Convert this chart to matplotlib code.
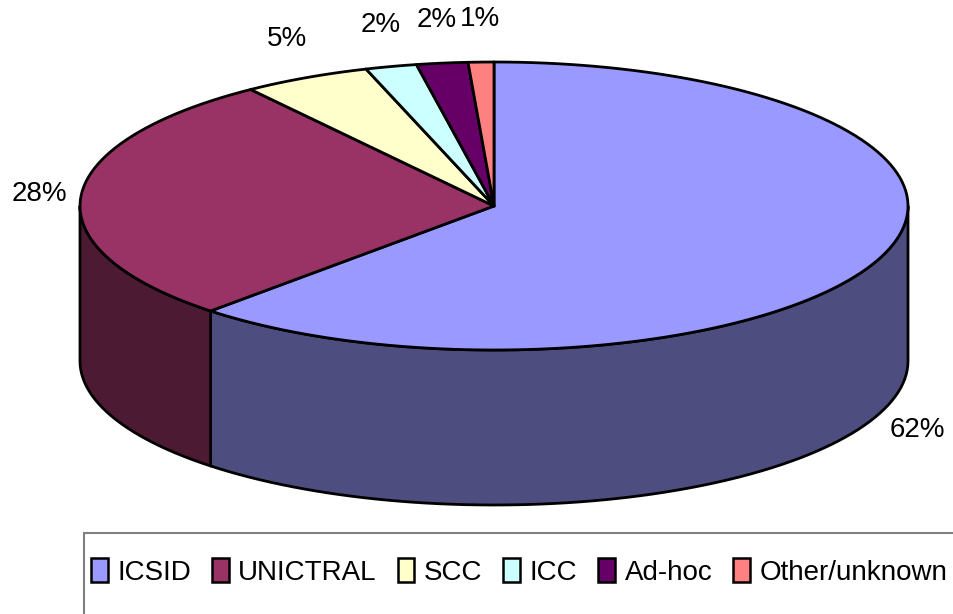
import numpy as np
import matplotlib.pyplot as plt
from matplotlib.patches import Polygon, Patch, Rectangle
from matplotlib.colors import to_rgb

# data
categories = ['ICSID', 'UNICTRAL', 'SCC', 'ICC', 'Ad-hoc', 'Other/unknown']
shares = [62, 28, 5, 2, 2, 1]
colors = ['#9999FF', '#993366', '#FFFFCC', '#CCFFFF', '#660066', '#FF8080']

# pie geometry (pixel space, y down)
cx, cy = 494., 206.
rx, ry = 414., 144.
depth = 155.
label_fx, label_fy = 1.1, 1.3
font = ['Liberation Sans', 'DejaVu Sans']
fsize = 20

fig = plt.figure(figsize=(9.54, 6.14), dpi=100)
ax = fig.add_axes([0, 0, 1, 1])
ax.set_xlim(0, 954)
ax.set_ylim(614, 0)
ax.axis('off')


def ellipse_pts(a0, a1, dy=0., n=200):
    t = np.radians(np.linspace(a0, a1, max(2, int(abs(a1 - a0) / 360 * n) + 2)))
    return np.column_stack([cx + rx * np.cos(t), cy - ry * np.sin(t) + dy])


def darker(c, f=0.5):
    return tuple(v * f for v in to_rgb(c))


fractions = np.array(shares) / sum(shares)
ends = 90 - 360 * np.cumsum(fractions)
starts = np.concatenate([[90], ends[:-1]])

# side walls (front half only)
for s, e, c in zip(starts, ends, colors):
    for k in (-1, 0, 1):
        lo = max(e + 360 * k, -180)
        hi = min(s + 360 * k, 0)
        if hi > lo:
            top = ellipse_pts(lo, hi)
            bot = ellipse_pts(hi, lo, dy=depth)
            ax.add_patch(Polygon(np.vstack([top, bot]), closed=True, facecolor=darker(c),
                                 edgecolor='black', linewidth=2, joinstyle='round'))

# top faces
for s, e, c in zip(starts, ends, colors):
    arc = ellipse_pts(s, e)
    pts = np.vstack([[cx, cy], arc])
    ax.add_patch(Polygon(pts, closed=True, facecolor=c, edgecolor='black',
                         linewidth=2, joinstyle='round'))

# percentage labels
for s, e, p in zip(starts, ends, shares):
    m = np.radians((s + e) / 2)
    x = cx + label_fx * rx * np.cos(m)
    y = cy - label_fy * ry * np.sin(m)
    if np.sin(m) < 0:
        y += depth
    ax.text(x, y, f'{p}%', ha='center', va='center', fontsize=fsize, family=font)

# legend
handles = [Patch(facecolor=c, edgecolor='black', linewidth=1.8) for c in colors]
fig.legend(handles, categories, loc='center left', bbox_to_anchor=(91 / 954, 1 - 572 / 614),
           ncol=6, frameon=False, prop={'family': font, 'size': fsize},
           handlelength=0.6, handleheight=0.9, handletextpad=0.35, columnspacing=0.75,
           borderpad=0, borderaxespad=0)
fig.add_artist(Rectangle((84 / 954, -0.05), 1.0, (614 - 533) / 614 + 0.05,
                         transform=fig.transFigure, fill=False, edgecolor='#808080', linewidth=1.5))

fig.savefig('out.png', dpi=100)
